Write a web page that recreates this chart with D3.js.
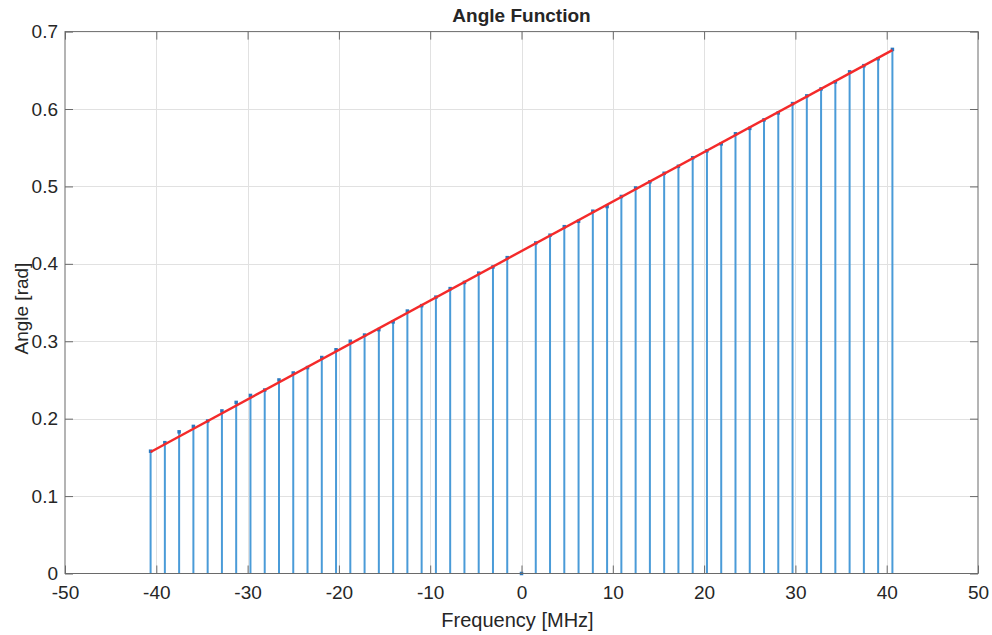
<!DOCTYPE html>
<html>
<head>
<meta charset="utf-8">
<script src="https://cdn.jsdelivr.net/npm/d3@7/dist/d3.min.js"></script>
<style>
  body { margin: 0; background: #fff; }
  svg { display: block; }
  text { font-family: "Liberation Sans", Arial, Helvetica, sans-serif; fill: #262626; }
</style>
</head>
<body>
<svg id="chart" width="992" height="635"></svg>
<script>
// Subcarrier frequencies in MHz (1.5625 MHz spacing, DC bin in the middle)
const frequencies = [
  -40.625, -39.0625, -37.5, -35.9375, -34.375, -32.8125, -31.25, -29.6875, -28.125,
  -26.5625, -25, -23.4375, -21.875, -20.3125, -18.75, -17.1875, -15.625, -14.0625,
  -12.5, -10.9375, -9.375, -7.8125, -6.25, -4.6875, -3.125, -1.5625,
  0,
  1.5625, 3.125, 4.6875, 6.25, 7.8125, 9.375, 10.9375, 12.5,
  14.0625, 15.625, 17.1875, 18.75, 20.3125, 21.875, 23.4375, 25, 26.5625,
  28.125, 29.6875, 31.25, 32.8125, 34.375, 35.9375, 37.5, 39.0625, 40.625
];

// Measured phase per subcarrier, rad (DC bin is empty)
const angles = [
  0.158, 0.169, 0.183, 0.190, 0.197, 0.210, 0.221, 0.230, 0.237,
  0.250, 0.259, 0.266, 0.279, 0.289, 0.300, 0.308, 0.315, 0.325,
  0.339, 0.346, 0.357, 0.368, 0.376, 0.388, 0.396, 0.408,
  0,
  0.427, 0.437, 0.448, 0.455, 0.468, 0.474, 0.487, 0.498,
  0.506, 0.517, 0.526, 0.537, 0.546, 0.555, 0.568, 0.575, 0.586,
  0.595, 0.607, 0.617, 0.626, 0.635, 0.648, 0.656, 0.665, 0.677
];

// Linear fit of the phase, given by its two end points
const fitFrequencies = [-40.625, 40.625];
const fitAngles = [0.157, 0.676];

const xTicks = [-50, -40, -30, -20, -10, 0, 10, 20, 30, 40, 50];
const yTicks = [0, 0.1, 0.2, 0.3, 0.4, 0.5, 0.6, 0.7];

const titleText = "Angle Function";
const xLabel = "Frequency [MHz]";
const yLabel = "Angle [rad]";

const svg = d3.select("#chart");
const W = 992, H = 635;
const plot = { left: 65, right: 978, top: 31.6, bottom: 573.5 };

svg.append("rect").attr("width", W).attr("height", H).attr("fill", "#fff");

const x = d3.scaleLinear().domain([-50, 50]).range([plot.left, plot.right]);
const y = d3.scaleLinear().domain([0, 0.7]).range([plot.bottom, plot.top]);

// Grid
const grid = svg.append("g").attr("stroke", "#e1e1e1").attr("stroke-width", 1);
grid.selectAll("line.gx").data(xTicks.slice(1, -1)).join("line")
  .attr("x1", d => Math.round(x(d)) + 0.5).attr("x2", d => Math.round(x(d)) + 0.5)
  .attr("y1", plot.top).attr("y2", plot.bottom);
grid.selectAll("line.gy").data(yTicks.slice(1, -1)).join("line")
  .attr("y1", d => Math.round(y(d)) + 0.5).attr("y2", d => Math.round(y(d)) + 0.5)
  .attr("x1", plot.left).attr("x2", plot.right);

// Stems
const data = frequencies.map((f, i) => ({ f, a: angles[i] }));
svg.append("g").selectAll("line").data(data).join("line")
  .attr("x1", d => x(d.f)).attr("x2", d => x(d.f))
  .attr("y1", y(0)).attr("y2", d => y(d.a))
  .attr("stroke", "#4a9bd8").attr("stroke-width", 2);

// Stem heads
svg.append("g").selectAll("rect").data(data).join("rect")
  .attr("x", d => x(d.f) - 1.75).attr("y", d => y(d.a) - 1.75)
  .attr("width", 3.5).attr("height", 3.5)
  .attr("fill", "#2a78bf");

// Fit line
svg.append("path")
  .datum(fitFrequencies.map((f, i) => [f, fitAngles[i]]))
  .attr("d", d3.line().x(d => x(d[0])).y(d => y(d[1])))
  .attr("fill", "none").attr("stroke", "#f42a2a").attr("stroke-width", 2.4);

// Axes (inward ticks on all four sides)
const axisColor = "#6a6a6a";
const hyphenFormat = d => String(d);
function styleAxis(g) {
  g.select(".domain").remove();
  g.selectAll(".tick line").attr("stroke", axisColor);
  g.selectAll(".tick text").attr("fill", "#333").style("font-size", "19px")
    .style("font-family", '"Liberation Sans", Arial, sans-serif');
}
svg.append("g").attr("transform", `translate(0,${plot.bottom})`)
  .call(d3.axisBottom(x).tickValues(xTicks).tickSizeInner(-8).tickSizeOuter(0).tickPadding(12)
    .tickFormat(hyphenFormat))
  .call(styleAxis);
svg.append("g").attr("transform", `translate(0,${plot.top})`)
  .call(d3.axisTop(x).tickValues(xTicks).tickSizeInner(-8).tickSizeOuter(0).tickFormat(""))
  .call(styleAxis);
svg.append("g").attr("transform", `translate(${plot.left},0)`)
  .call(d3.axisLeft(y).tickValues(yTicks).tickSizeInner(-8).tickSizeOuter(0).tickPadding(7)
    .tickFormat(d => d === 0 ? "0" : d3.format(".1f")(d)))
  .call(styleAxis);
svg.append("g").attr("transform", `translate(${plot.right},0)`)
  .call(d3.axisRight(y).tickValues(yTicks).tickSizeInner(-8).tickSizeOuter(0).tickFormat(""))
  .call(styleAxis);

// Box
svg.append("rect")
  .attr("x", plot.left).attr("y", plot.top)
  .attr("width", plot.right - plot.left).attr("height", plot.bottom - plot.top)
  .attr("fill", "none").attr("stroke", axisColor).attr("stroke-width", 1);

// Title and labels
svg.append("text").attr("x", (plot.left + plot.right) / 2).attr("y", 22)
  .attr("text-anchor", "middle").style("font-size", "19px").style("font-weight", "bold")
  .attr("fill", "#111").text(titleText);
svg.append("text").attr("x", (plot.left + plot.right) / 2 - 4).attr("y", 627)
  .attr("text-anchor", "middle").style("font-size", "20px").attr("fill", "#333").text(xLabel);
svg.append("text").attr("transform", `translate(28,${(plot.top + plot.bottom) / 2 + 6}) rotate(-90)`)
  .attr("text-anchor", "middle").style("font-size", "19px").attr("fill", "#333").text(yLabel);
</script>
</body>
</html>
